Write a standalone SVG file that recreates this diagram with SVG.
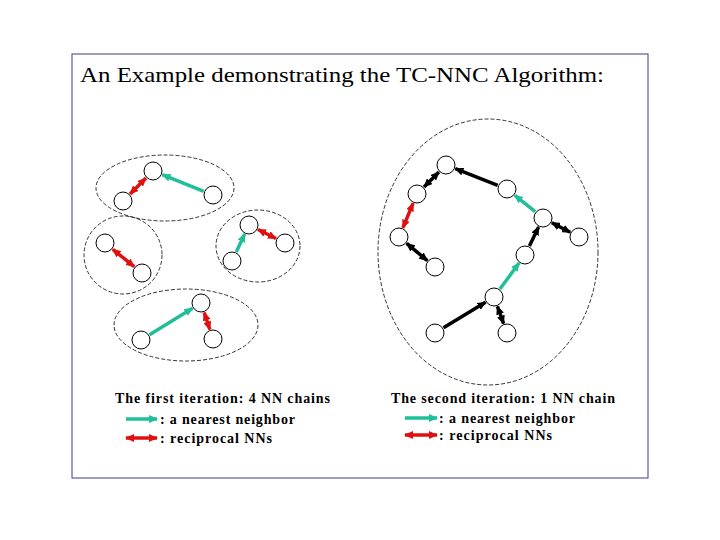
<svg xmlns="http://www.w3.org/2000/svg" width="720" height="540" viewBox="0 0 720 540">
<style>
.t{font-family:"Liberation Serif",serif;fill:#000}
.n{fill:#fff;stroke:#000;stroke-width:1}
.g{fill:none;stroke:#000;stroke-width:0.8;stroke-dasharray:4,2}
.c line{stroke-width:3.5}
.gr{stroke:#1fbf99}.rd{stroke:#e01010}.bk{stroke:#000}
</style>
<defs>
<marker id="mg" markerUnits="userSpaceOnUse" markerWidth="10" markerHeight="8" refX="8" refY="4" orient="auto-start-reverse"><path d="M0,0L9,4L0,8z" fill="#1fbf99"/></marker>
<marker id="mr" markerUnits="userSpaceOnUse" markerWidth="10" markerHeight="8" refX="8" refY="4" orient="auto-start-reverse"><path d="M0,0L9,4L0,8z" fill="#e01010"/></marker>
<marker id="mb" markerUnits="userSpaceOnUse" markerWidth="10" markerHeight="8" refX="8" refY="4" orient="auto-start-reverse"><path d="M0,0L9,4L0,8z" fill="#000"/></marker>
</defs>
<rect x="0" y="0" width="720" height="540" fill="#fff"/>
<rect x="72" y="54" width="576" height="424" fill="#fff" stroke="#3a3a8a" stroke-width="1"/>
<text class="t" x="80" y="82" font-size="22" textLength="524" lengthAdjust="spacingAndGlyphs">An Example demonstrating the TC-NNC Algorithm:</text>
<g id="groups">
<ellipse class="g" cx="165" cy="188" rx="69" ry="33"/>
<ellipse class="g" cx="123" cy="255" rx="39" ry="39"/>
<ellipse class="g" cx="258" cy="246" rx="42" ry="36"/>
<ellipse class="g" cx="186" cy="325" rx="72" ry="36"/>
<ellipse class="g" cx="488" cy="252" rx="110" ry="133"/>
</g>
<g id="connectors" class="c">
<line class="gr" x1="203.7" y1="191.3" x2="162.3" y2="174.7" marker-end="url(#mg)"/>
<line class="rd" x1="145.9" y1="178.1" x2="130.1" y2="193.9" marker-start="url(#mr)" marker-end="url(#mr)"/>
<line class="rd" x1="112.8" y1="249.3" x2="134.2" y2="266.7" marker-start="url(#mr)" marker-end="url(#mr)"/>
<line class="gr" x1="236.3" y1="252" x2="244.7" y2="234" marker-end="url(#mg)"/>
<line class="rd" x1="258" y1="229.5" x2="276" y2="238.5" marker-start="url(#mr)" marker-end="url(#mr)"/>
<line class="gr" x1="149.5" y1="334.8" x2="192.5" y2="308.3" marker-end="url(#mg)"/>
<line class="rd" x1="204.2" y1="312.5" x2="209.8" y2="329.5" marker-start="url(#mr)" marker-end="url(#mr)"/>
<line class="bk" x1="497.7" y1="185.3" x2="455.3" y2="168.7" marker-end="url(#mb)"/>
<line class="bk" x1="438.9" y1="172.1" x2="424.1" y2="186.9" marker-start="url(#mb)" marker-end="url(#mb)"/>
<line class="rd" x1="413.1" y1="203.2" x2="402.9" y2="227.8" marker-start="url(#mr)" marker-end="url(#mr)"/>
<line class="bk" x1="406.7" y1="243.4" x2="427.3" y2="260.6" marker-start="url(#mb)" marker-end="url(#mb)"/>
<line class="gr" x1="535.2" y1="211.7" x2="514.8" y2="195.3" marker-end="url(#mg)"/>
<line class="bk" x1="570.2" y1="232.3" x2="551.8" y2="222.7" marker-start="url(#mb)" marker-end="url(#mb)"/>
<line class="bk" x1="529.4" y1="246" x2="538.6" y2="227" marker-end="url(#mb)"/>
<line class="gr" x1="499.9" y1="289" x2="519.1" y2="263" marker-end="url(#mg)"/>
<line class="bk" x1="443.5" y1="327.8" x2="485.5" y2="302.2" marker-end="url(#mb)"/>
<line class="bk" x1="503.6" y1="323.6" x2="497.4" y2="306.4" marker-start="url(#mb)" marker-end="url(#mb)"/>
<line class="gr" x1="126" y1="419" x2="157" y2="419" marker-end="url(#mg)"/>
<line class="rd" x1="126" y1="438" x2="157" y2="438" marker-start="url(#mr)" marker-end="url(#mr)"/>
<line class="gr" x1="405" y1="418" x2="437" y2="418" marker-end="url(#mg)"/>
<line class="rd" x1="405" y1="435" x2="437" y2="435" marker-start="url(#mr)" marker-end="url(#mr)"/>
</g>
<g id="n1"><circle class="n" cx="153" cy="171" r="9"/></g>
<g id="n2"><circle class="n" cx="123" cy="201" r="9"/></g>
<g id="n3"><circle class="n" cx="213" cy="195" r="9"/></g>
<g id="n4"><circle class="n" cx="105" cy="243" r="9"/></g>
<g id="n5"><circle class="n" cx="142" cy="273" r="9"/></g>
<g id="n6"><circle class="n" cx="249" cy="225" r="9"/></g>
<g id="n7"><circle class="n" cx="232" cy="261" r="9"/></g>
<g id="n8"><circle class="n" cx="285" cy="243" r="9"/></g>
<g id="n9"><circle class="n" cx="201" cy="303" r="9"/></g>
<g id="n10"><circle class="n" cx="141" cy="340" r="9"/></g>
<g id="n11"><circle class="n" cx="213" cy="339" r="9"/></g>
<g id="rA"><circle class="n" cx="446" cy="165" r="9"/></g>
<g id="rB"><circle class="n" cx="417" cy="194" r="9"/></g>
<g id="rC"><circle class="n" cx="399" cy="237" r="9"/></g>
<g id="rD"><circle class="n" cx="435" cy="267" r="9"/></g>
<g id="rE"><circle class="n" cx="507" cy="189" r="9"/></g>
<g id="rF"><circle class="n" cx="543" cy="218" r="9"/></g>
<g id="rG"><circle class="n" cx="579" cy="237" r="9"/></g>
<g id="rH"><circle class="n" cx="525" cy="255" r="9"/></g>
<g id="rI"><circle class="n" cx="494" cy="297" r="9"/></g>
<g id="rJ"><circle class="n" cx="435" cy="333" r="9"/></g>
<g id="rK"><circle class="n" cx="507" cy="333" r="9"/></g>
<g id="legend1" class="t" font-size="14" font-weight="bold">
<text x="115" y="403" textLength="215">The first iteration: 4 NN chains</text>
<text x="160" y="424" textLength="135">: a nearest neighbor</text>
<text x="160" y="443" textLength="112">: reciprocal NNs</text>
</g>
<g id="legend2" class="t" font-size="14" font-weight="bold">
<text x="391" y="403" textLength="224">The second iteration: 1 NN chain</text>
<text x="439" y="423" textLength="136">: a nearest neighbor</text>
<text x="439" y="440" textLength="113">: reciprocal NNs</text>
</g>
</svg>
